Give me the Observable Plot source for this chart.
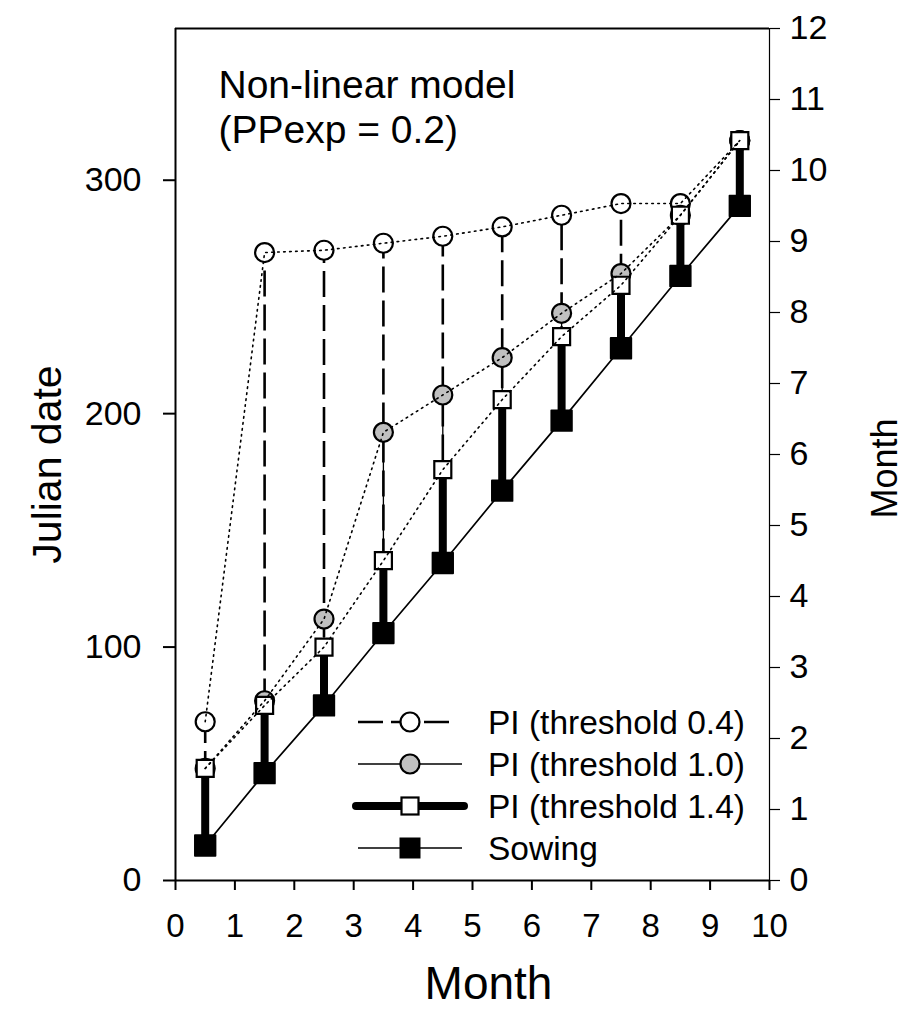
<!DOCTYPE html>
<html>
<head>
<meta charset="utf-8">
<script src="https://cdn.jsdelivr.net/npm/d3@7"></script>
<script src="https://cdn.jsdelivr.net/npm/@observablehq/plot@0.6"></script>
<style>
  html, body { margin: 0; padding: 0; background: #fff; }
  #chart { position: relative; width: 905px; height: 1020px; overflow: hidden; }
</style>
</head>
<body>
<div id="chart"></div>
<script>
// ---- data ----
const months = [0.5, 1.5, 2.5, 3.5, 4.5, 5.5, 6.5, 7.5, 8.5, 9.5];
const sowing = [15, 46, 75, 106, 136, 167, 197, 228, 259, 289];
const pi04   = [68, 269, 270, 273, 276, 280, 285, 290, 290, 317];
const pi10   = [48, 77, 112, 192, 208, 224, 243, 260, 285, 317];
const pi14   = [48, 75, 100, 137, 176, 206, 233, 255, 285, 317];

const xTicks = [0, 1, 2, 3, 4, 5, 6, 7, 8, 9, 10];
const leftTicks = [0, 100, 200, 300];
const rightTicks = [0, 1, 2, 3, 4, 5, 6, 7, 8, 9, 10, 11, 12];
const yearDays = 365;
const monthsInYear = 12;

const legendLabels = ["PI (threshold 0.4)", "PI (threshold 1.0)", "PI (threshold 1.4)", "Sowing"];
const annotation = "Non-linear model\n(PPexp = 0.2)";
const xLabel = "Month";
const yLabel = "Julian date";
const y2Label = "Month";

const data = months.map((m, i) => ({month: m, sowing: sowing[i], pi04: pi04[i], pi10: pi10[i], pi14: pi14[i]}));
const dpm = yearDays / monthsInYear;

const FONT = "'Liberation Sans', Arial, Helvetica, sans-serif";
const GREY = "#c0c0c0";
const dotted = {strokeDasharray: "1.6,4.4", strokeWidth: 1.6, stroke: "black"};

const chart = Plot.plot({
  width: 905,
  height: 1020,
  marginTop: 28,
  marginRight: 136,
  marginBottom: 140,
  marginLeft: 175,
  style: {fontFamily: FONT, fontSize: "33px", color: "black", background: "white", overflow: "visible"},
  x: {domain: [0, 10]},
  y: {domain: [0, yearDays]},
  marks: [
    // vertical ranges
    Plot.ruleX(data, {x: "month", y1: "sowing", y2: "pi04", stroke: "black", strokeWidth: 2.6, strokeDasharray: "26,8"}),
    Plot.ruleX(data, {x: "month", y1: "sowing", y2: "pi10", stroke: "black", strokeWidth: 1.3}),
    Plot.ruleX(data, {x: "month", y1: "sowing", y2: "pi14", stroke: "black", strokeWidth: 8}),
    // sowing line
    Plot.line(data, {x: "month", y: "sowing", stroke: "black", strokeWidth: 1.7}),
    // markers
    Plot.dot(data, {x: "month", y: "pi04", r: 9.5, fill: "white", stroke: "black", strokeWidth: 2.2}),
    Plot.dot(data, {x: "month", y: "pi10", r: 9.5, fill: GREY, stroke: "black", strokeWidth: 2.2}),
    Plot.dot(data, {x: "month", y: "pi14", symbol: "square", r: 9.6, fill: "white", stroke: "black", strokeWidth: 2.2}),
    Plot.dot(data, {x: "month", y: "sowing", symbol: "square", r: 11.6, fill: "black", stroke: "black", strokeWidth: 1.8, strokeLinejoin: "round"}),
    // dotted connecting lines (drawn over the markers)
    Plot.line(data, {x: "month", y: "pi04", ...dotted}),
    Plot.line(data, {x: "month", y: "pi10", ...dotted}),
    Plot.line(data, {x: "month", y: "pi14", ...dotted}),
    // frame
    Plot.ruleY([0], {stroke: "black", strokeWidth: 2}),
    Plot.ruleY([yearDays], {stroke: "black", strokeWidth: 2}),
    Plot.ruleX([0], {stroke: "black", strokeWidth: 2}),
    Plot.ruleX([10], {stroke: "black", strokeWidth: 1.2}),
    // axes
    Plot.axisX({ticks: xTicks, tickFormat: d => String(d), tickSize: 10, tickPadding: 23, strokeWidth: 2, fontSize: 33, label: null}),
    Plot.axisY({anchor: "left", ticks: leftTicks, tickFormat: d => String(d), tickSize: 12, tickPadding: 22, strokeWidth: 2, fontSize: 34, label: null}),
    Plot.axisY({anchor: "right", ticks: rightTicks.map(m => m * dpm), tickFormat: d => String(Math.round(d / dpm)), tickSize: 10, tickPadding: 10, strokeWidth: 1.2, fontSize: 34, label: null}),
    // axis titles
    Plot.text([xLabel], {frameAnchor: "bottom", dx: 16, dy: 104, fontSize: 46, lineAnchor: "middle", textAnchor: "middle"}),
    Plot.text([yLabel], {frameAnchor: "left", dx: -128, dy: 10, rotate: -90, fontSize: 41, textAnchor: "middle", lineAnchor: "middle"}),
    Plot.text([y2Label], {frameAnchor: "right", dx: 116, dy: 14, rotate: -90, fontSize: 36, textAnchor: "middle", lineAnchor: "middle"}),
    // annotation
    Plot.text([annotation], {frameAnchor: "top-left", dx: 43, dy: 38, textAnchor: "start", lineAnchor: "top", fontSize: 39, lineHeight: 1.15})
  ]
});

document.getElementById("chart").appendChild(chart);

// ---- legend (drawn into the plot's svg) ----
const svg = d3.select(chart);
const lg = svg.append("g").attr("class", "legend").attr("font-family", FONT).attr("font-size", 33.5).attr("text-anchor", "start");
const rowY = [722, 764, 806, 848];
const lx0 = 358, lx1 = 462, mx = 410, tx = 488;
const styles = [
  {line: {w: 2.6, dash: "25,8", x1: 358, x2: 452}, marker: "circle", fill: "white"},
  {line: {w: 1.3, dash: null, x1: lx0, x2: lx1}, marker: "circle", fill: GREY},
  {line: {w: 8, dash: null, x1: 356, x2: 464, cap: "round"}, marker: "square", fill: "white"},
  {line: {w: 1.3, dash: null, x1: lx0, x2: lx1}, marker: "square", fill: "black"}
];
legendLabels.forEach((label, i) => {
  const s = styles[i];
  const y = rowY[i];
  const ln = lg.append("line").attr("x1", s.line.x1).attr("x2", s.line.x2).attr("y1", y).attr("y2", y)
    .attr("stroke", "black").attr("stroke-width", s.line.w);
  if (s.line.dash) ln.attr("stroke-dasharray", s.line.dash);
  if (s.line.cap) ln.attr("stroke-linecap", s.line.cap);
  if (s.marker === "circle") {
    lg.append("circle").attr("cx", mx).attr("cy", y).attr("r", 9.5).attr("fill", s.fill).attr("stroke", "black").attr("stroke-width", 2.2);
  } else {
    const side = s.fill === "black" ? 19.5 : 17;
    lg.append("rect").attr("x", mx - side / 2).attr("y", y - side / 2).attr("width", side).attr("height", side)
      .attr("fill", s.fill).attr("stroke", "black").attr("stroke-width", s.fill === "black" ? 1.5 : 2.2);
  }
  lg.append("text").attr("x", tx).attr("y", y).attr("dy", "0.35em").attr("fill", "black").attr("text-anchor", "start").text(label);
});
</script>
</body>
</html>
